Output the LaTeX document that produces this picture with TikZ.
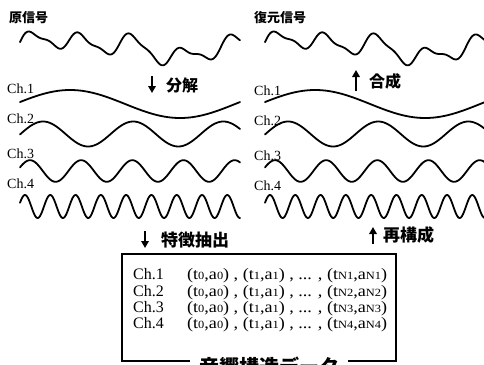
\documentclass[tikz,border=0pt]{standalone}
\usepackage{fontspec}
\usepackage{graphicx}
\setmainfont{Liberation Serif}
\newfontfamily\cjk{Noto Sans CJK JP}
\usetikzlibrary{arrows.meta}
\newcommand{\ssb}[1]{\raisebox{-0.6pt}{\fontsize{11}{11}\selectfont #1}}
\tikzset{
  wave/.style={line width=1.8pt, line join=round, line cap=round},
  chlab/.style={anchor=base west, inner sep=0pt, font=\fontsize{14}{14}\selectfont},
  boxtxt/.style={anchor=base west, inner sep=0pt, font=\fontsize{16}{16}\selectfont},
  jlab/.style={anchor=west, inner sep=0pt, font=\cjk\bfseries},
  bigarrow/.style={line width=2.6pt, -{Triangle[width=7.5pt,length=7pt]}},
  databox/.style={line width=2pt},
}
\begin{document}
\begin{tikzpicture}[x=1pt,y=-1pt]
\useasboundingbox (0,0) rectangle (484,364);
\clip (0,0) rectangle (484,364);
% waves for both panels
\foreach \xo in {20,265}{
  \draw[wave] plot[domain=0:220, samples=260, smooth] ({\xo+\x},
     {47 - 7*sin(1.63636*\x+8) - 4*sin(3.99273*\x-2) - 9*sin(7.03636*\x+19.5) - 3*sin(14.23636*\x+19)});
  \draw[wave] plot[domain=0:220, samples=120, smooth] ({\xo+\x}, {104 - 14*sin(1.63636*\x+8)});
  \draw[wave] plot[domain=0:220, samples=160, smooth] ({\xo+\x}, {134 - 12.5*sin(3.99273*\x-2)});
  \draw[wave] plot[domain=0:220, samples=200, smooth] ({\xo+\x}, {171 - 10.8*sin(7.03636*\x+19.5)});
  \draw[wave] plot[domain=0:220, samples=300, smooth] ({\xo+\x}, {206.5 - 11.5*sin(14.23636*\x+19)});
}
% titles
\node[jlab, font=\cjk\bfseries\fontsize{13}{13}\selectfont] (orig) at (9,18) {原信号};
\node[jlab, font=\cjk\bfseries\fontsize{13}{13}\selectfont] (rest) at (254,18) {復元信号};
% channel labels
\node[chlab] (l1) at (7,93) {Ch.1};
\node[chlab] (l2) at (7,123) {Ch.2};
\node[chlab] (l3) at (7,158) {Ch.3};
\node[chlab] (l4) at (7,188) {Ch.4};
\node[chlab] (r1) at (254,95) {Ch.1};
\node[chlab] (r2) at (254,125) {Ch.2};
\node[chlab] (r3) at (254,160) {Ch.3};
\node[chlab] (r4) at (254,190) {Ch.4};
% arrows and labels
\coordinate (a1s) at (152,76); \coordinate (a1e) at (152,93);
\draw[bigarrow] (a1s) -- (a1e);
\node[jlab, font=\cjk\bfseries\fontsize{16}{16}\selectfont] (dec) at (166,85) {分解};
\coordinate (a2s) at (356,91); \coordinate (a2e) at (356,70);
\draw[bigarrow] (a2s) -- (a2e);
\node[jlab, font=\cjk\bfseries\fontsize{16}{16}\selectfont] (syn) at (369,81) {合成};
\coordinate (a3s) at (145,231); \coordinate (a3e) at (145,248);
\draw[bigarrow] (a3s) -- (a3e);
\node[jlab, font=\cjk\bfseries\fontsize{17}{17}\selectfont] (ext) at (161,240) {特徴抽出};
\coordinate (a4s) at (373,244); \coordinate (a4e) at (373,227);
\draw[bigarrow] (a4s) -- (a4e);
\node[jlab, font=\cjk\bfseries\fontsize{17}{17}\selectfont] (rec) at (383,235) {再構成};
% data box
\draw[databox] (122,254) rectangle (396,361);
\node[boxtxt] (b1) at (133,279) {Ch.1};
\node[boxtxt] (b2) at (133,296) {Ch.2};
\node[boxtxt] (b3) at (133,312) {Ch.3};
\node[boxtxt] (b4) at (133,328) {Ch.4};
\foreach \n/\yy in {1/279,2/296,3/312,4/328}{
  \node[boxtxt] (t\n) at (187,\yy) {\scalebox{1.13}[1]{(t\ssb{0},a\ssb{0}) , (t\ssb{1},a\ssb{1}) , ... , (t\ssb{N\n},a\ssb{N\n})}};
}
\node[fill=white, inner xsep=9pt, inner ysep=2pt, font=\cjk\bfseries\fontsize{20}{20}\selectfont] (title) at (269,367) {音響構造データ};
\end{tikzpicture}
\end{document}
